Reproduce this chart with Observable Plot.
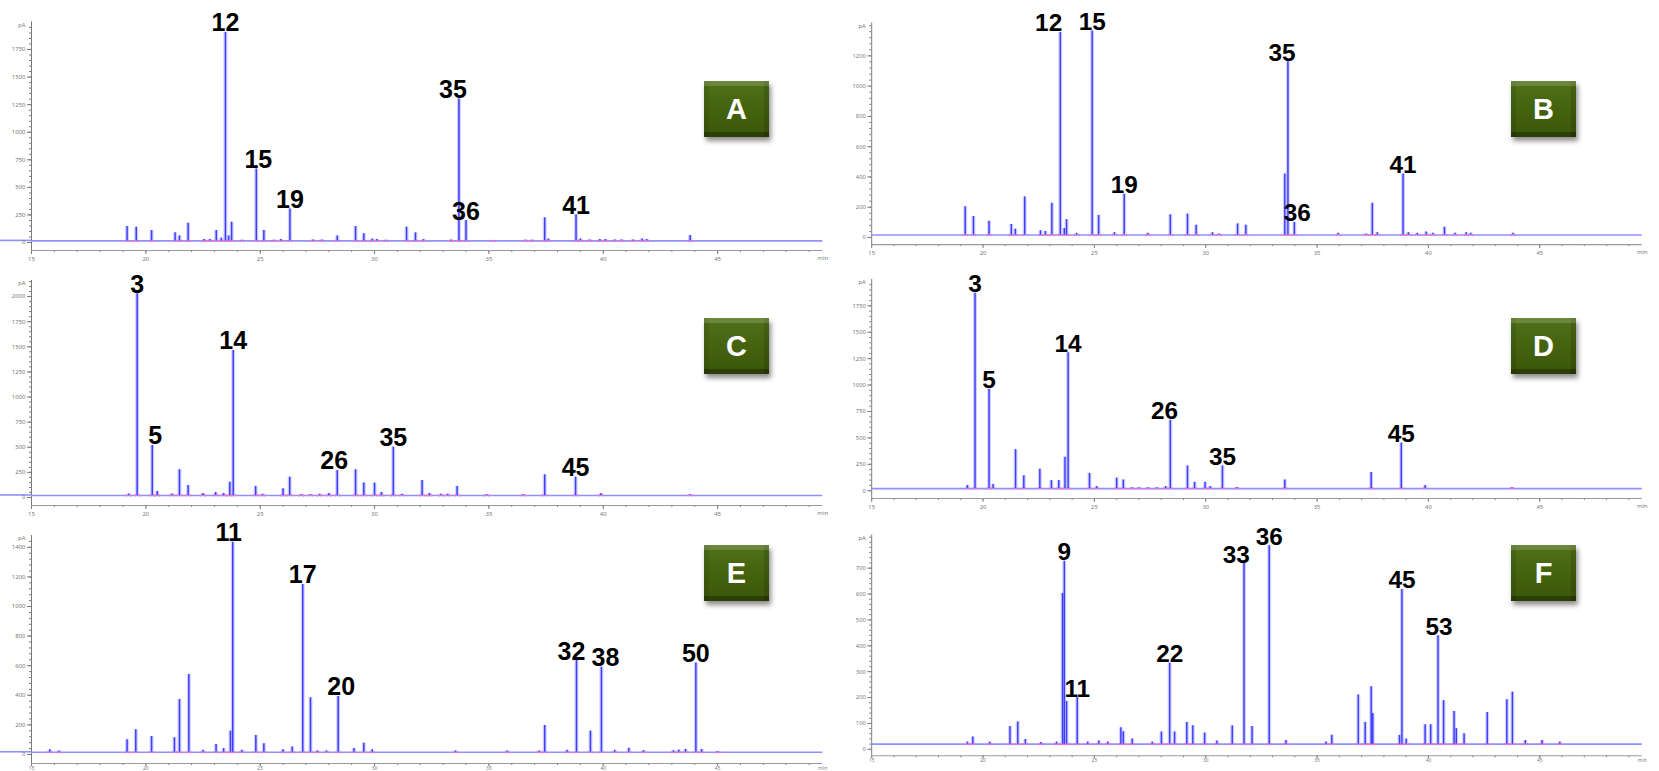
<!DOCTYPE html>
<html>
<head>
<meta charset="utf-8">
<script src="https://cdn.jsdelivr.net/npm/d3@7"></script>
<script src="https://cdn.jsdelivr.net/npm/@observablehq/plot@0.6"></script>
<style>
  html, body { margin: 0; padding: 0; background: #fff; overflow: hidden; }
  #page { position: relative; width: 1659px; height: 771px; overflow: hidden; }
  .panel { position: absolute; }
  .panel svg { overflow: visible; }
  .badge {
    position: absolute; width: 65px; height: 56px;
    background: linear-gradient(180deg, #52711a 0%, #466410 45%, #3b560a 100%);
    box-shadow: 2px 4px 5px rgba(0,0,0,0.45),
                inset 0 5px 0 rgba(255,255,255,0.16),
                inset 0 -5px 0 rgba(0,0,0,0.28),
                inset 5px 0 0 rgba(0,0,0,0.08),
                inset -5px 0 0 rgba(0,0,0,0.12);
    color: #fff; font: bold 29px "Liberation Sans", Arial, sans-serif;
    display: flex; align-items: center; justify-content: center;
  }
</style>
</head>
<body>
<div id="page"></div>
<script>
// ---- Peak tables (retention time in min, height in pA) ----
const timesA = [19.18, 19.58, 20.25, 21.28, 21.47, 21.85, 22.55, 22.8, 23.08, 23.3, 23.48, 23.62, 23.75, 24.2, 24.83, 25.16, 25.6, 25.9, 26.3, 27.3, 27.7, 28.37, 29.17, 29.53, 29.9, 30.1, 30.5, 31.4, 31.79, 32.14, 33.35, 33.69, 34.0, 35.2, 36.6, 36.9, 37.44, 37.6, 38.81, 39.0, 39.4, 39.85, 40.1, 40.5, 40.8, 41.3, 41.7, 41.9, 43.8];
const heightsA = [145, 139, 109, 88, 60, 175, 28, 28, 109, 40, 1905, 60, 184, 22, 667, 109, 22, 27, 305, 24, 24, 60, 145, 80, 32, 28, 22, 139, 88, 27, 24, 1302, 199, 18, 22, 22, 224, 32, 251, 32, 24, 28, 28, 24, 24, 24, 32, 28, 63];
const labelIdsA = ["12", "15", "19", "35", "36", "41"];
const labelTimesA = [23.48, 24.83, 26.3, 33.69, 34.0, 38.81];

const timesB = [19.2, 19.57, 20.27, 21.27, 21.45, 21.87, 22.58, 22.8, 23.09, 23.47, 23.65, 23.75, 24.2, 24.9, 25.19, 25.9, 26.34, 27.4, 28.41, 29.18, 29.57, 30.3, 30.6, 31.43, 31.8, 33.55, 33.69, 33.98, 35.95, 37.2, 37.48, 37.7, 38.86, 39.1, 39.5, 39.9, 40.2, 40.72, 41.2, 41.7, 41.9, 43.8];
const heightsB = [204, 139, 107, 86, 55, 268, 45, 40, 226, 1355, 60, 118, 28, 1365, 146, 32, 286, 28, 150, 155, 81, 32, 24, 90, 81, 419, 1161, 100, 28, 24, 226, 32, 419, 32, 28, 36, 28, 68, 28, 32, 28, 28];
const labelIdsB = ["12", "15", "19", "35", "36", "41"];
const labelTimesB = [23.47, 24.9, 26.34, 33.69, 33.98, 38.86];

const timesC = [19.25, 19.62, 20.28, 20.5, 21.15, 21.47, 21.85, 22.5, 23.05, 23.4, 23.67, 23.82, 24.8, 25.1, 26.0, 26.29, 26.8, 27.2, 27.6, 28.0, 28.37, 29.17, 29.53, 30.0, 30.3, 30.82, 31.2, 32.08, 32.4, 32.9, 33.2, 33.61, 34.9, 36.5, 37.44, 38.79, 39.9, 43.8];
const heightsC = [35, 2029, 518, 60, 35, 276, 120, 40, 50, 40, 152, 1464, 110, 32, 87, 202, 28, 28, 32, 40, 269, 276, 143, 143, 50, 501, 32, 169, 40, 32, 32, 110, 28, 28, 226, 202, 40, 28];
const labelIdsC = ["3", "5", "14", "26", "35", "45"];
const labelTimesC = [19.62, 20.28, 23.82, 28.37, 30.82, 38.79];

const timesD = [19.3, 19.64, 20.27, 20.45, 21.46, 21.83, 22.55, 23.07, 23.4, 23.68, 23.82, 24.78, 25.1, 26.0, 26.3, 26.7, 27.0, 27.4, 27.8, 28.2, 28.41, 29.18, 29.5, 29.97, 30.2, 30.75, 31.4, 33.55, 37.43, 38.78, 39.85, 43.75];
const heightsD = [50, 1870, 960, 60, 389, 142, 204, 96, 96, 318, 1306, 164, 40, 120, 102, 28, 28, 28, 28, 40, 667, 234, 80, 80, 40, 234, 30, 102, 173, 451, 50, 28];
const labelIdsD = ["3", "5", "14", "26", "35", "45"];
const labelTimesD = [19.64, 20.27, 23.82, 28.41, 30.75, 38.78];

const timesE = [15.8, 16.2, 19.18, 19.56, 20.25, 21.25, 21.47, 21.88, 22.5, 23.07, 23.4, 23.7, 23.8, 24.2, 24.81, 25.16, 26.0, 26.4, 26.86, 27.2, 27.5, 27.9, 28.41, 29.1, 29.53, 29.9, 33.54, 35.8, 37.2, 37.44, 38.42, 38.83, 39.44, 39.92, 40.5, 41.12, 41.76, 43.07, 43.3, 43.6, 44.05, 44.3, 45.0];
const heightsE = [32, 24, 99, 167, 122, 113, 372, 541, 28, 68, 40, 158, 1435, 28, 128, 72, 32, 50, 1149, 383, 24, 24, 392, 40, 76, 32, 24, 24, 24, 196, 28, 635, 158, 590, 28, 42, 26, 26, 30, 34, 618, 34, 20];
const labelIdsE = ["11", "17", "20", "32", "38", "50"];
const labelTimesE = [23.8, 26.86, 28.41, 38.83, 39.92, 44.05];

const timesF = [19.3, 19.54, 20.3, 21.21, 21.56, 21.9, 22.6, 23.3, 23.57, 23.65, 23.75, 24.23, 24.7, 25.2, 25.6, 26.19, 26.3, 26.7, 27.6, 28.01, 28.38, 28.6, 29.15, 29.42, 29.95, 30.5, 31.19, 31.72, 32.08, 32.85, 33.6, 35.4, 35.66, 36.85, 37.16, 37.43, 37.5, 38.7, 38.81, 39.0, 39.85, 40.1, 40.43, 40.68, 41.15, 41.25, 41.6, 42.64, 43.52, 43.77, 44.35, 45.1, 45.9];
const heightsF = [28, 48, 28, 88, 106, 38, 26, 28, 602, 727, 185, 200, 28, 32, 28, 83, 68, 40, 28, 67, 333, 67, 104, 91, 63, 32, 91, 718, 88, 787, 34, 28, 54, 210, 104, 242, 138, 54, 618, 40, 95, 95, 439, 188, 146, 80, 60, 142, 192, 221, 34, 34, 28];
const labelIdsF = ["9", "11", "22", "33", "36", "45", "53"];
const labelTimesF = [23.65, 24.23, 28.38, 31.72, 32.85, 38.81, 40.43];

// Axis settings
const xTicksMajor = [15, 20, 25, 30, 35, 40, 45];
const yTickStepA = 250, yTickStepB = 200, yTickStepC = 250, yTickStepD = 250, yTickStepE = 200, yTickStepF = 100;
const baselines = {A: 15, B: 16, C: 20, D: 20, E: 15, F: 20};

// Panel layout; `nudge` shifts crowded peak numbers sideways (px)
const panels = [
  {name: "A", times: timesA, heights: heightsA, ids: labelIdsA, lt: labelTimesA, step: yTickStepA, yMax: 1750,
   domain: [-72, 2000], left: 0, top: 0, height: 262, mt: 21.4, mb: 12, badge: [704, 81],
   nudge: {"35": -6, "15": 2}},
  {name: "B", times: timesB, heights: heightsB, ids: labelIdsB, lt: labelTimesB, step: yTickStepB, yMax: 1200,
   domain: [-47, 1418], left: 841, top: 0, height: 262, mt: 23, mb: 11.3, badge: [1511, 81],
   nudge: {"12": -12, "35": -6, "36": 3}},
  {name: "C", times: timesC, heights: heightsC, ids: labelIdsC, lt: labelTimesC, step: yTickStepC, yMax: 2000,
   domain: [-80, 2160], left: 0, top: 240, height: 277, mt: 40, mb: 12, badge: [704, 318],
   nudge: {"5": 3, "26": -3}},
  {name: "D", times: timesD, heights: heightsD, ids: labelIdsD, lt: labelTimesD, step: yTickStepD, yMax: 1750,
   domain: [-74, 2000], left: 841, top: 240, height: 277, mt: 40, mb: 12, badge: [1511, 318],
   nudge: {"26": -6}},
  {name: "E", times: timesE, heights: heightsE, ids: labelIdsE, lt: labelTimesE, step: yTickStepE, yMax: 1400,
   domain: [-61, 1480], left: 0, top: 480, height: 291, mt: 55, mb: 8, badge: [704, 545],
   nudge: {"32": -5, "38": 4, "11": -4, "20": 3}},
  {name: "F", times: timesF, heights: heightsF, ids: labelIdsF, lt: labelTimesF, step: yTickStepF, yMax: 700,
   domain: [-25, 828], left: 841, top: 480, height: 291, mt: 56, mb: 8.3, badge: [1511, 545],
   nudge: {"33": -8, "53": 1}}
];

const page = document.getElementById("page");
const axisColor = "#7a7a7a";
const labelFont = '"Liberation Sans", Arial, Helvetica, sans-serif';

function drawPanel(p) {
  const base = baselines[p.name];
  const peaks = p.times.map((t, i) => ({t, h: p.heights[i]}));
  const labels = p.lt.map((t, i) => ({t, h: p.heights[p.times.indexOf(t)], id: p.ids[i]}));
  const yMajor = d3.range(0, p.yMax + 1, p.step);
  const yMinor = d3.range(0, p.domain[1], p.step / 5);
  const xMinor = d3.range(15, 50, 1);
  const bottomRow = p.top >= 480;

  const chart = Plot.plot({
    width: 840, height: p.height,
    marginLeft: 31, marginRight: 17.7, marginTop: p.mt, marginBottom: p.mb,
    x: {domain: [15, 49.6]},
    y: {domain: p.domain},
    style: {background: "transparent", overflow: "visible"},
    marks: [
      // minor and major ticks on both axes
      Plot.axisY({ticks: yMinor, tickSize: 2, tickFormat: () => "", label: null, stroke: axisColor}),
      Plot.axisY({ticks: yMajor, tickSize: 4, tickPadding: 2, fontSize: 6, label: null, color: axisColor,
                  tickFormat: d3.format("d")}),
      Plot.axisX({ticks: xMinor, tickSize: 2, tickFormat: () => "", label: null, stroke: axisColor}),
      Plot.axisX({ticks: xTicksMajor, tickSize: bottomRow ? 3 : 4, tickPadding: bottomRow ? 0 : 2,
                  fontSize: bottomRow ? 5 : 6, label: null, color: axisColor, tickFormat: d3.format("d")}),
      Plot.ruleX([15], {stroke: axisColor, strokeWidth: 1}),
      Plot.ruleY([p.domain[0]], {stroke: "#9a9a9a", strokeWidth: 1.2}),
      Plot.text(["pA"], {x: 15, y: p.domain[1], textAnchor: "end", dx: -6, dy: 3, fontSize: 6, fill: axisColor}),
      Plot.text(["min"], {x: 49.6, y: p.domain[0], dy: bottomRow ? 5 : 8, fontSize: bottomRow ? 5 : 6, fill: axisColor}),
      // detector trace baseline, running out to the left edge
      Plot.ruleY([base], {x1: 15, x2: 49.6, dx: 0, stroke: "#8f8fff", strokeWidth: 1.6}),
      Plot.ruleY([base], {x1: 15, x2: 15, stroke: "#8f8fff", strokeWidth: 1.6}),
      // integration markers
      Plot.dot(peaks, {x: "t", y: base, r: 1.1, fill: "#ff70c8", dx: -2}),
      Plot.dot(peaks, {x: "t", y: base, r: 1.1, fill: "#ff70c8", dx: 2}),
      // peaks: soft halo plus core
      Plot.ruleX(peaks, {x: "t", y1: base, y2: "h", stroke: "#a9a9ff", strokeWidth: 4, strokeOpacity: 0.55}),
      Plot.ruleX(peaks, {x: "t", y1: base, y2: "h", stroke: "#3d3dff", strokeWidth: 1.5}),
      // peak numbers
      ...labels.map(l => Plot.text([l], {x: "t", y: "h", text: "id", lineAnchor: "bottom", dy: -1,
                         dx: p.nudge[l.id] || 0,
                         fontSize: 25, fontWeight: "bold", fontFamily: labelFont, fill: "#000"}))
    ]
  });

  // extend the trace baseline leftwards past the y axis on the left-hand panels
  if (p.left === 0) {
    const svg = d3.select(chart);
    const yPix = chart.scale("y").apply(base);
    svg.insert("line", ":first-child")
      .attr("x1", 0).attr("x2", 31).attr("y1", yPix).attr("y2", yPix)
      .attr("stroke", "#8f8fff").attr("stroke-width", 1.6);
  }

  const holder = document.createElement("div");
  holder.className = "panel";
  holder.style.left = p.left + "px";
  holder.style.top = p.top + "px";
  holder.appendChild(chart);
  page.appendChild(holder);
}

panels.forEach(drawPanel);

// panel badges
panels.forEach(p => {
  const b = document.createElement("div");
  b.className = "badge";
  b.style.left = p.badge[0] + "px";
  b.style.top = p.badge[1] + "px";
  b.textContent = p.name;
  page.appendChild(b);
});
</script>
</body>
</html>
